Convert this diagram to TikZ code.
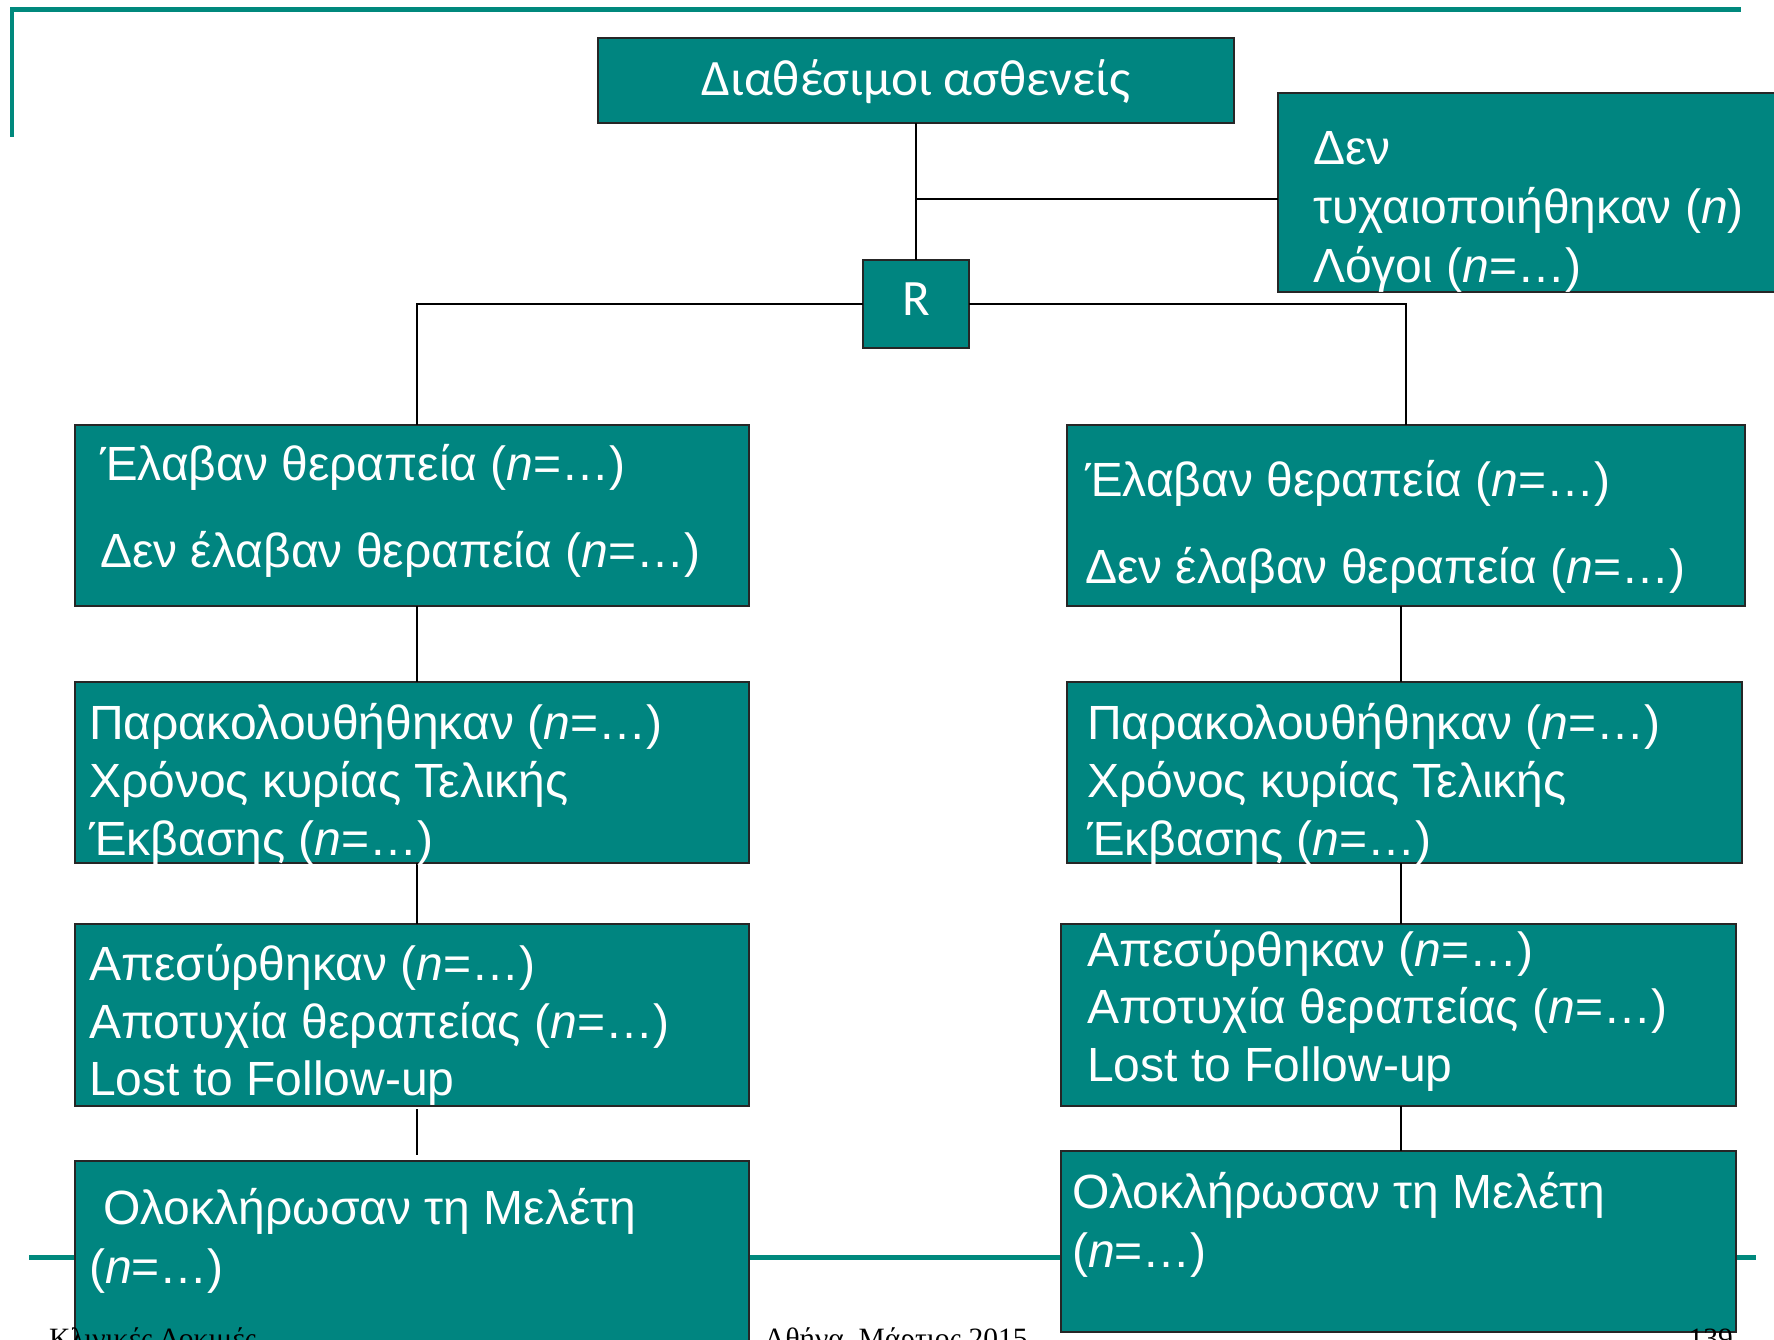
\documentclass[tikz,border=0pt]{standalone}
\usepackage{fontspec}
\setmainfont{Liberation Sans}
\newfontfamily\calibfont{Carlito}
\newfontfamily\footfont{Liberation Serif}
\usetikzlibrary{calc}
\definecolor{boxteal}{RGB}{0,133,128}
\definecolor{frameteal}{RGB}{0,137,125}

\begin{document}
\begin{tikzpicture}[x=1pt,y=-1pt,
  box/.style={draw=black!85, line width=2pt, fill=boxteal, inner sep=0pt, outer sep=0pt, anchor=north west},
  txt/.style={text=white, font=\fontsize{48}{57}\selectfont, inner sep=0pt, anchor=base west},
  headtxt/.style={text=white, font=\calibfont\fontsize{51}{60}\selectfont, inner sep=0pt, anchor=base},
  foot/.style={text=black, font=\footfont\fontsize{29.5}{33}\selectfont, inner sep=0pt},
  link/.style={draw=black, line width=2.5pt},
  frame/.style={draw=frameteal, line width=4.5pt}]

\useasboundingbox (0,0) rectangle (1774,1340);

% slide frame
\draw[frame] (12,137) -- (12,9.3) -- (1741,9.3);
\draw[frame] (29,1257.5) -- (1756,1257.5);

% boxes
\node[box, minimum width=636pt, minimum height=85pt]  (top) at (598,38) {};
\node[box, minimum width=530pt, minimum height=199pt] (nr)  at (1278,93) {};
\node[box, minimum width=106pt, minimum height=88pt]  (R)   at (863,260) {};

\node[box, minimum width=674pt, minimum height=181pt] (L1) at (75,425) {};
\node[box, minimum width=674pt, minimum height=181pt] (L2) at (75,682) {};
\node[box, minimum width=674pt, minimum height=182pt] (L3) at (75,924) {};
\node[box, minimum width=674pt, minimum height=200pt] (L4) at (75,1161) {};

\node[box, minimum width=678pt, minimum height=181pt] (R1) at (1067,425) {};
\node[box, minimum width=675pt, minimum height=181pt] (R2) at (1067,682) {};
\node[box, minimum width=675pt, minimum height=182pt] (R3) at (1061,924) {};
\node[box, minimum width=675pt, minimum height=181pt] (R4) at (1061,1151) {};

% connector columns
\coordinate (lx) at (417,0);
\coordinate (rx) at (1401,0);
\coordinate (rtop) at (1406,0);
\coordinate (br) at (916,199);

\draw[link] (top.south) -- (top.south |- R.north);
\draw[link] (br) -- (br -| nr.west);
\draw[link] (R.west) -| (L1.north -| lx);
\draw[link] (R.east) -| (R1.north -| rtop);

\draw[link] (L1.south -| lx) -- (L2.north -| lx);
\draw[link] (L2.south -| lx) -- (L3.north -| lx);
\draw[link] ($(L3.south -| lx)+(0,3)$) -- ($(L4.north -| lx)+(0,-6)$);

\draw[link] (R1.south -| rx) -- (R2.north -| rx);
\draw[link] (R2.south -| rx) -- (R3.north -| rx);
\draw[link] (R3.south -| rx) -- (R4.north -| rx);

% texts
\node[headtxt] (toptxt) at (916,96) {Διαθέσιμοι ασθενείς};
\node[headtxt] (rtxt) at (916,316) {R};

\node[txt] (nr1) at (1313,165) {Δεν};
\node[txt] (nr2) at (1313,224) {τυχαιοποιήθηκαν (\textit{n})};
\node[txt] (nr3) at (1313,283) {Λόγοι (\textit{n}=…)};

\node[txt] (l1a) at (100,480) {Έλαβαν θεραπεία (\textit{n}=…)};
\node[txt] (l1b) at (100,567) {Δεν έλαβαν θεραπεία (\textit{n}=…)};
\node[txt] (r1a) at (1085,496) {Έλαβαν θεραπεία (\textit{n}=…)};
\node[txt] (r1b) at (1085,583) {Δεν έλαβαν θεραπεία (\textit{n}=…)};

\node[txt] (l2a) at (89,739) {Παρακολουθήθηκαν (\textit{n}=…)};
\node[txt] (l2b) at (89,797) {Χρόνος κυρίας Τελικής};
\node[txt] (l2c) at (89,855) {Έκβασης (\textit{n}=…)};
\node[txt] (r2a) at (1087,739) {Παρακολουθήθηκαν (\textit{n}=…)};
\node[txt] (r2b) at (1087,797) {Χρόνος κυρίας Τελικής};
\node[txt] (r2c) at (1087,855) {Έκβασης (\textit{n}=…)};

\node[txt] (l3a) at (89,980) {Απεσύρθηκαν (\textit{n}=…)};
\node[txt] (l3b) at (89,1038) {Αποτυχία θεραπείας (\textit{n}=…)};
\node[txt] (l3c) at (89,1095) {Lost to Follow-up};
\node[txt] (r3a) at (1087,966) {Απεσύρθηκαν (\textit{n}=…)};
\node[txt] (r3b) at (1087,1023) {Αποτυχία θεραπείας (\textit{n}=…)};
\node[txt] (r3c) at (1087,1081) {Lost to Follow-up};

\node[txt] (l4a) at (103,1224) {Ολοκλήρωσαν τη Μελέτη};
\node[txt] (l4b) at (89,1283) {(\textit{n}=…)};
\node[txt] (r4a) at (1072,1208) {Ολοκλήρωσαν τη Μελέτη};
\node[txt] (r4b) at (1072,1267) {(\textit{n}=…)};

% footer
\node[foot, anchor=base west] (ft1) at (49,1348.5) {Κλινικές Δοκιμές};
\node[foot, anchor=base west] (ft2) at (764,1348.5) {Αθήνα, Μάρτιος 2015};
\node[foot, anchor=base east] (ft3) at (1733,1348.5) {139};
\end{tikzpicture}
\end{document}
